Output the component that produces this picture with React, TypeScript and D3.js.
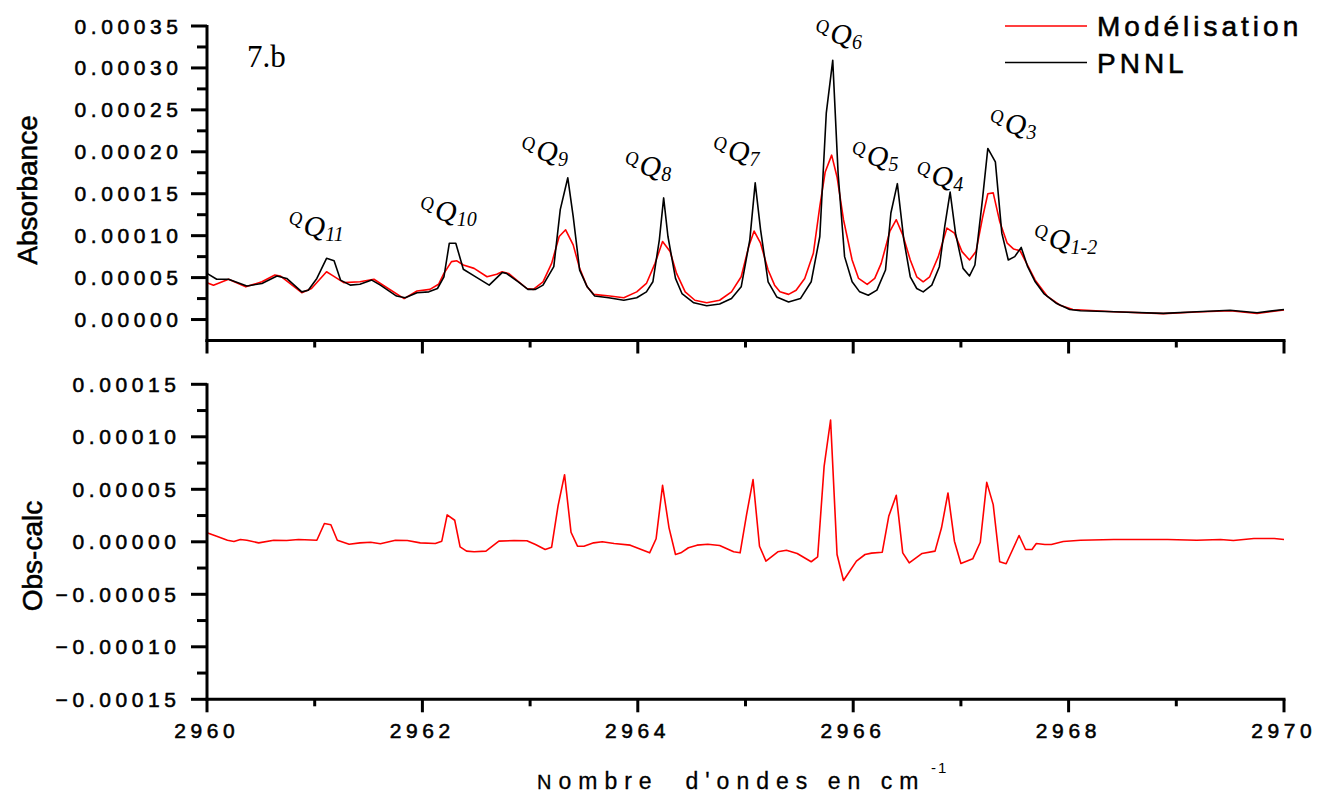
import React from "react";
import * as d3 from "d3";

const W = 1319;
const H = 796;

// x ticks (wavenumber, cm-1)
const xMajorTicks = [2960, 2962, 2964, 2966, 2968, 2970];
const xMinorTicks = [2961, 2963, 2965, 2967, 2969];
// upper panel ticks
const topMajorTicks = [0, 0.00005, 0.0001, 0.00015, 0.0002, 0.00025, 0.0003, 0.00035];
const topMinorTicks = [0.000025, 0.000075, 0.000125, 0.000175, 0.000225, 0.000275, 0.000325];
// lower panel ticks
const botMajorTicks = [-0.00015, -0.0001, -0.00005, 0, 0.00005, 0.0001, 0.00015];
const botMinorTicks = [-0.000125, -0.000075, -0.000025, 0.000025, 0.000075, 0.000125];

// PNNL (observed) spectrum
const pnnlWn = [
  2960.00, 2960.09, 2960.20, 2960.37, 2960.51, 2960.65, 2960.74, 2960.88, 2960.94, 2961.02,
  2961.11, 2961.18, 2961.24, 2961.33, 2961.42, 2961.53, 2961.61, 2961.76, 2961.84, 2961.95,
  2962.06, 2962.14, 2962.20, 2962.25, 2962.31, 2962.38, 2962.48, 2962.62, 2962.74, 2962.78,
  2962.89, 2962.98, 2963.05, 2963.12, 2963.22, 2963.28, 2963.35, 2963.40, 2963.46, 2963.53,
  2963.60, 2963.73, 2963.87, 2963.99, 2964.08, 2964.14, 2964.20, 2964.24, 2964.28, 2964.35,
  2964.41, 2964.52, 2964.64, 2964.76, 2964.87, 2964.96, 2965.04, 2965.09, 2965.14, 2965.21,
  2965.29, 2965.40, 2965.51, 2965.61, 2965.69, 2965.75, 2965.81, 2965.86, 2965.92, 2965.99,
  2966.06, 2966.14, 2966.22, 2966.30, 2966.35, 2966.41, 2966.47, 2966.53, 2966.59, 2966.65,
  2966.73, 2966.80, 2966.85, 2966.90, 2966.95, 2967.02, 2967.08, 2967.13, 2967.20, 2967.25,
  2967.32, 2967.38, 2967.44, 2967.50, 2967.56, 2967.62, 2967.69, 2967.77, 2967.89, 2968.01,
  2968.11, 2968.42, 2968.88, 2969.19, 2969.50, 2969.75, 2970.00,
];
const pnnlAbs = [
  5.5e-5, 4.8e-5, 4.8e-5, 4.0e-5, 4.3e-5, 5.2e-5, 4.9e-5, 3.3e-5, 3.5e-5, 4.9e-5,
  7.3e-5, 7.0e-5, 4.7e-5, 4.1e-5, 4.2e-5, 4.7e-5, 4.1e-5, 2.8e-5, 2.6e-5, 3.2e-5,
  3.3e-5, 3.7e-5, 5.1e-5, 9.1e-5, 9.1e-5, 6.0e-5, 5.2e-5, 4.1e-5, 5.6e-5, 5.5e-5,
  4.5e-5, 3.6e-5, 3.6e-5, 4.1e-5, 6.3e-5, 13.1e-5, 16.9e-5, 12.3e-5, 5.9e-5, 3.9e-5,
  2.8e-5, 2.6e-5, 2.3e-5, 2.6e-5, 3.3e-5, 4.5e-5, 9.5e-5, 14.5e-5, 9.9e-5, 4.9e-5,
  3.1e-5, 2.0e-5, 1.65e-5, 1.85e-5, 2.5e-5, 3.9e-5, 9.5e-5, 16.3e-5, 10.7e-5, 4.5e-5,
  2.7e-5, 2.1e-5, 2.5e-5, 4.5e-5, 9.9e-5, 24.6e-5, 30.9e-5, 17.4e-5, 7.5e-5, 4.5e-5,
  3.3e-5, 2.9e-5, 3.5e-5, 5.9e-5, 12.7e-5, 16.2e-5, 9.5e-5, 5.1e-5, 3.7e-5, 3.3e-5,
  4.1e-5, 6.3e-5, 11.1e-5, 15.2e-5, 10.3e-5, 6.1e-5, 5.2e-5, 6.5e-5, 14.3e-5, 20.4e-5,
  18.8e-5, 10.3e-5, 7.1e-5, 7.5e-5, 8.6e-5, 6.3e-5, 4.5e-5, 3.1e-5, 1.9e-5, 1.2e-5,
  1.05e-5, 0.93e-5, 0.74e-5, 0.93e-5, 1.1e-5, 0.81e-5, 1.2e-5,
];

// Modélisation (calculated) spectrum
const modelWn = [
  2960.00, 2960.06, 2960.20, 2960.36, 2960.51, 2960.63, 2960.68, 2960.88, 2960.97, 2961.11,
  2961.16, 2961.27, 2961.42, 2961.55, 2961.61, 2961.83, 2961.95, 2962.07, 2962.15, 2962.20,
  2962.27, 2962.32, 2962.38, 2962.48, 2962.60, 2962.69, 2962.74, 2962.80, 2962.97, 2963.03,
  2963.12, 2963.20, 2963.27, 2963.33, 2963.40, 2963.46, 2963.53, 2963.59, 2963.74, 2963.87,
  2963.99, 2964.08, 2964.16, 2964.23, 2964.30, 2964.36, 2964.44, 2964.53, 2964.64, 2964.76,
  2964.87, 2964.96, 2965.03, 2965.08, 2965.14, 2965.21, 2965.27, 2965.32, 2965.40, 2965.47,
  2965.55, 2965.63, 2965.69, 2965.74, 2965.80, 2965.85, 2965.91, 2965.99, 2966.05, 2966.13,
  2966.20, 2966.26, 2966.34, 2966.40, 2966.46, 2966.53, 2966.59, 2966.65, 2966.71, 2966.79,
  2966.87, 2966.94, 2967.01, 2967.08, 2967.14, 2967.20, 2967.25, 2967.30, 2967.36, 2967.43,
  2967.49, 2967.55, 2967.61, 2967.69, 2967.80, 2967.92, 2968.04, 2968.42, 2968.88, 2969.19,
  2969.50, 2969.75, 2970.00,
];
const modelAbs = [
  4.4e-5, 4.1e-5, 4.8e-5, 3.9e-5, 4.5e-5, 5.3e-5, 5.2e-5, 3.2e-5, 3.7e-5, 5.7e-5,
  5.3e-5, 4.4e-5, 4.5e-5, 4.8e-5, 4.3e-5, 2.5e-5, 3.4e-5, 3.6e-5, 4.2e-5, 5.5e-5,
  6.9e-5, 7.0e-5, 6.5e-5, 6.1e-5, 5.1e-5, 5.4e-5, 5.7e-5, 5.5e-5, 3.7e-5, 3.6e-5,
  4.5e-5, 6.7e-5, 9.9e-5, 10.7e-5, 8.9e-5, 6.1e-5, 3.9e-5, 3.0e-5, 2.8e-5, 2.6e-5,
  3.3e-5, 4.3e-5, 6.7e-5, 9.3e-5, 8.1e-5, 5.5e-5, 3.3e-5, 2.3e-5, 2.0e-5, 2.3e-5,
  3.3e-5, 5.1e-5, 8.7e-5, 10.55e-5, 9.1e-5, 5.9e-5, 4.1e-5, 3.3e-5, 3.0e-5, 3.5e-5,
  4.9e-5, 7.9e-5, 13.5e-5, 17.6e-5, 19.6e-5, 17.0e-5, 11.9e-5, 7.1e-5, 4.9e-5, 4.2e-5,
  4.9e-5, 6.7e-5, 10.5e-5, 11.9e-5, 10.1e-5, 7.1e-5, 5.1e-5, 4.5e-5, 5.1e-5, 7.5e-5,
  10.9e-5, 10.3e-5, 8.1e-5, 7.1e-5, 8.1e-5, 12.1e-5, 15.0e-5, 15.1e-5, 11.7e-5, 9.1e-5,
  8.4e-5, 8.2e-5, 6.7e-5, 4.7e-5, 2.8e-5, 1.7e-5, 1.2e-5, 0.93e-5, 0.7e-5, 0.9e-5,
  1.05e-5, 0.72e-5, 1.15e-5,
];

// Obs-calc residual
const diffWn = [
  2960.00, 2960.09, 2960.19, 2960.25, 2960.31, 2960.37, 2960.48, 2960.62, 2960.74, 2960.85,
  2961.02, 2961.09, 2961.15, 2961.21, 2961.32, 2961.42, 2961.52, 2961.61, 2961.75, 2961.86,
  2961.98, 2962.12, 2962.18, 2962.23, 2962.30, 2962.35, 2962.41, 2962.48, 2962.59, 2962.71,
  2962.85, 2962.97, 2963.05, 2963.14, 2963.20, 2963.26, 2963.32, 2963.38, 2963.44, 2963.50,
  2963.59, 2963.67, 2963.78, 2963.93, 2964.11, 2964.17, 2964.23, 2964.29, 2964.35, 2964.40,
  2964.47, 2964.55, 2964.65, 2964.76, 2964.89, 2964.95, 2965.01, 2965.07, 2965.13, 2965.19,
  2965.30, 2965.38, 2965.48, 2965.61, 2965.67, 2965.73, 2965.79, 2965.85, 2965.91, 2966.03,
  2966.11, 2966.17, 2966.27, 2966.33, 2966.40, 2966.46, 2966.52, 2966.64, 2966.76, 2966.82,
  2966.88, 2966.94, 2967.00, 2967.11, 2967.18, 2967.24, 2967.30, 2967.36, 2967.42, 2967.54,
  2967.60, 2967.66, 2967.70, 2967.78, 2967.84, 2967.95, 2968.11, 2968.42, 2968.92, 2969.19,
  2969.41, 2969.53, 2969.72, 2969.91, 2970.00,
];
const diffVal = [
  0.86e-5, 0.53e-5, 0.15e-5, 0.03e-5, 0.22e-5, 0.15e-5, -0.10e-5, 0.15e-5, 0.12e-5, 0.22e-5,
  0.15e-5, 1.74e-5, 1.62e-5, 0.15e-5, -0.23e-5, -0.10e-5, -0.04e-5, -0.19e-5, 0.15e-5, 0.12e-5,
  -0.10e-5, -0.16e-5, 0.06e-5, 2.56e-5, 2.05e-5, -0.48e-5, -0.89e-5, -0.95e-5, -0.89e-5, 0.06e-5,
  0.12e-5, 0.10e-5, -0.26e-5, -0.73e-5, -0.51e-5, 3.45e-5, 6.39e-5, 0.91e-5, -0.42e-5, -0.42e-5,
  -0.10e-5, 0.0, -0.16e-5, -0.32e-5, -1.05e-5, 0.29e-5, 5.38e-5, 1.33e-5, -1.21e-5, -1.05e-5,
  -0.57e-5, -0.32e-5, -0.23e-5, -0.35e-5, -0.95e-5, -1.05e-5, 2.59e-5, 5.92e-5, -0.42e-5, -1.84e-5,
  -0.95e-5, -0.80e-5, -1.11e-5, -1.90e-5, -1.43e-5, 7.18e-5, 11.6e-5, -1.21e-5, -3.68e-5, -1.84e-5,
  -1.21e-5, -1.08e-5, -0.99e-5, 2.43e-5, 4.43e-5, -1.05e-5, -2.00e-5, -1.11e-5, -0.89e-5, 1.33e-5,
  4.65e-5, 0.06e-5, -2.06e-5, -1.62e-5, -0.04e-5, 5.66e-5, 3.54e-5, -1.90e-5, -2.09e-5, 0.60e-5,
  -0.73e-5, -0.73e-5, -0.16e-5, -0.26e-5, -0.26e-5, 0.03e-5, 0.15e-5, 0.22e-5, 0.22e-5, 0.15e-5,
  0.22e-5, 0.12e-5, 0.31e-5, 0.31e-5, 0.22e-5,
];

// Peak labels: subscript, wavenumber of label start, absorbance of label baseline
const peakSubs = ["11", "10", "9", "8", "7", "6", "5", "4", "3", "1-2"];
const peakWn = [2960.76, 2961.98, 2962.92, 2963.88, 2964.70, 2965.65, 2965.99, 2966.59, 2967.27, 2967.68];
const peakY = [9.96e-5, 11.75e-5, 18.9e-5, 17.1e-5, 18.9e-5, 32.85e-5, 18.3e-5, 15.9e-5, 22.1e-5, 8.4e-5];

const legendNames = ["Modélisation", "PNNL"];
const legendColors = ["#ff0000", "#000000"];

const SANS = "'Liberation Sans', Arial, Helvetica, sans-serif";
const SERIF = "'Liberation Serif', 'Times New Roman', serif";

export default function App() {
  const x = d3.scaleLinear().domain([2960, 2970]).range([207, 1284]);
  const yTop = d3.scaleLinear().domain([-0.000025, 0.00035]).range([340.5, 26]);
  const yBot = d3.scaleLinear().domain([-0.00015, 0.00015]).range([699.3, 384.3]);
  const fmt = d3.format(".5f");

  const mk = (xs: number[], ys: number[]) => xs.map((v, i) => [v, ys[i]] as [number, number]);
  const lineTop = d3.line<[number, number]>().x((d) => x(d[0])).y((d) => yTop(d[1]));
  const lineBot = d3.line<[number, number]>().x((d) => x(d[0])).y((d) => yBot(d[1]));

  const AX = 3;
  const tickFont = 21;
  const tickLS = 4.6;
  const heavy = { stroke: "#000", strokeWidth: 0.55 };

  const yAxis = (
    scale: d3.ScaleLinear<number, number>,
    major: number[],
    minor: number[],
    key: string,
    labelX: number
  ) => (
    <g key={key}>
      <line x1={207} x2={207} y1={scale.range()[1] - 1} y2={scale.range()[0] + 1.5} stroke="#000" strokeWidth={AX} />
      {major.map((t) => (
        <g key={"M" + t}>
          <line x1={191} x2={207} y1={scale(t)} y2={scale(t)} stroke="#000" strokeWidth={AX} />
          <text
            x={labelX + tickLS}
            y={scale(t)}
            dy="0.36em"
            textAnchor="end"
            fontFamily={SANS}
            fontSize={tickFont}
            letterSpacing={tickLS}
            fill="#000"
            {...heavy}
          >
            {fmt(t)}
          </text>
        </g>
      ))}
      {minor.map((t) => (
        <line key={"m" + t} x1={197} x2={207} y1={scale(t)} y2={scale(t)} stroke="#000" strokeWidth={AX} />
      ))}
    </g>
  );

  const xAxis = (yPos: number, withLabels: boolean, key: string) => (
    <g key={key}>
      <line x1={205.5} x2={1285.5} y1={yPos} y2={yPos} stroke="#000" strokeWidth={AX} />
      {xMajorTicks.map((t) => (
        <g key={"X" + t}>
          <line x1={x(t)} x2={x(t)} y1={yPos} y2={yPos + 13} stroke="#000" strokeWidth={AX} />
          {withLabels && (
            <text
              x={x(t) + tickLS / 2 - 2.5}
              y={yPos + 39}
              textAnchor="middle"
              fontFamily={SANS}
              fontSize={tickFont}
              letterSpacing={tickLS}
              fill="#000"
              {...heavy}
            >
              {t}
            </text>
          )}
        </g>
      ))}
      {xMinorTicks.map((t) => (
        <line key={"x" + t} x1={x(t)} x2={x(t)} y1={yPos} y2={yPos + 7} stroke="#000" strokeWidth={AX} />
      ))}
    </g>
  );

  return (
    <div style={{ position: "absolute", left: 0, top: 0, width: W, height: H, background: "#fff" }}>
      <svg width={W} height={H} viewBox={`0 0 ${W} ${H}`} style={{ display: "block" }}>
        <rect x={0} y={0} width={W} height={H} fill="#fff" />

        {/* Upper panel curves */}
        <path d={lineTop(mk(modelWn, modelAbs)) || ""} fill="none" stroke="#ff0000" strokeWidth={1.6} strokeLinejoin="round" />
        <path d={lineTop(mk(pnnlWn, pnnlAbs)) || ""} fill="none" stroke="#000" strokeWidth={1.6} strokeLinejoin="round" />

        {/* Lower panel curve */}
        <path d={lineBot(mk(diffWn, diffVal)) || ""} fill="none" stroke="#ff0000" strokeWidth={1.6} strokeLinejoin="round" />

        {yAxis(yTop, topMajorTicks, topMinorTicks, "yt", 178)}
        {xAxis(340.5, false, "xt")}
        {yAxis(yBot, botMajorTicks, botMinorTicks, "yb", 176)}
        {xAxis(699.3, true, "xb")}

        {/* Axis titles */}
        <text transform="translate(37,190) rotate(-90)" textAnchor="middle" fontFamily={SANS} fontSize={28} fill="#000" {...heavy}>
          Absorbance
        </text>
        <text transform="translate(42,556) rotate(-90)" textAnchor="middle" fontFamily={SANS} fontSize={28} fill="#000" {...heavy}>
          Obs-calc
        </text>
        <text x={537} y={789} fontFamily={SANS} fontSize={23} letterSpacing={7} fill="#000" style={{ whiteSpace: "pre" }} stroke="#000" strokeWidth={0.3}>
          <tspan fontSize={20}>N</tspan>
          <tspan>{"ombre  d'ondes en cm"}</tspan>
        </text>
        <text x={931} y={773} fontFamily={SANS} fontSize={15} letterSpacing={2} fill="#000">
          -1
        </text>

        {/* Panel tag */}
        <text x={247} y={67} fontFamily={SERIF} fontSize={31} fill="#000">
          7.b
        </text>

        {/* Peak labels */}
        {peakSubs.map((s, i) => (
          <text key={"pk" + i} x={x(peakWn[i])} y={yTop(peakY[i])} fontFamily={SERIF} fontStyle="italic" fill="#000">
            <tspan fontSize={19} dy={-11}>Q</tspan>
            <tspan fontSize={30} dx={1} dy={11}>Q</tspan>
            <tspan fontSize={20} dy={5}>{s}</tspan>
          </text>
        ))}

        {/* Legend */}
        {legendNames.map((n, i) => (
          <g key={"lg" + i}>
            <line x1={1005} x2={1087} y1={26 + i * 36.5} y2={26 + i * 36.5} stroke={legendColors[i]} strokeWidth={1.6} />
            <text x={1097} y={36 + i * 37} fontFamily={SANS} fontSize={28} letterSpacing={4} fill="#000" {...heavy}>
              {n}
            </text>
          </g>
        ))}
      </svg>
    </div>
  );
}
